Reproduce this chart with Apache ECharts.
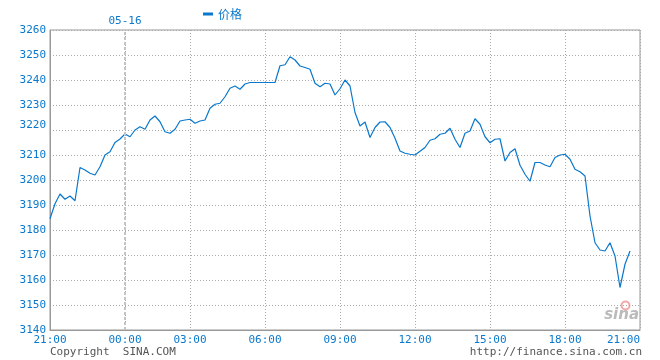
<!DOCTYPE html>
<html><head><meta charset="utf-8">
<script src="https://cdn.jsdelivr.net/npm/echarts@6/dist/echarts.min.js"></script>
<style>html,body{margin:0;padding:0;background:#fff}#c{width:660px;height:360px}</style>
</head><body><div id="c"></div>
<script>
// ---- data ----
const seriesName = '价格';
const dayLabel = '05-16';
const tickLabels = ['21:00','00:00','03:00','06:00','09:00','12:00','15:00','18:00','21:00'];
const yTicks = [3140,3150,3160,3170,3180,3190,3200,3210,3220,3230,3240,3250,3260];
const prices = [
3184.5,3190.5,3194.4,3192.3,3193.6,3191.7,3205,3204,3202.7,3202,
3205.3,3210,3211.3,3215,3216.4,3218.4,3217.3,3220,3221.3,3220.3,
3224,3225.6,3223.3,3219.3,3218.7,3220.3,3223.6,3224,3224.3,3222.7,
3223.6,3224,3228.7,3230.3,3230.7,3233.3,3236.7,3237.6,3236.3,3238.4,
3239,3239,3239,3239,3239,3239,3245.7,3246.1,3249.3,3248,
3245.6,3245,3244.3,3238.7,3237.3,3238.7,3238.4,3234,3236.5,3240,
3237.6,3227,3221.6,3223.2,3217,3221,3223.2,3223.3,3221,3216.7,
3211.6,3210.7,3210.3,3210,3211.5,3213,3215.9,3216.5,3218.3,3218.7,
3220.7,3216.3,3213,3218.7,3219.6,3224.5,3222.3,3217.3,3214.9,3216.3,
3216.5,3207.6,3211,3212.5,3205.9,3202.3,3199.5,3207,3207,3206,
3205.3,3209,3210,3210.3,3208.3,3204.3,3203.3,3201.6,3185.6,3174.9,
3172,3171.6,3174.9,3169.6,3157,3166.3,3171.6
];
// time slots every 12 minutes, session pause 02:24 -> 03:00
const slotCount = 119;
function pad(n){return (n<10?'0':'')+n;}
const categories = [];
for (let i = 0; i < slotCount; i++) {
  const m = i <= 27 ? i*12 : 360 + (i-28)*12; // minutes after 05-15 21:00
  const tot = 21*60 + m;
  const day = tot >= 1440 ? '05-16' : '05-15';
  const t = tot % 1440;
  categories.push(day + ' ' + pad(Math.floor(t/60)) + ':' + pad(t%60));
}
const data = categories.map((c,i)=> i < prices.length ? prices[i] : null);
const isTick = (idx, val) => tickLabels.indexOf(val.slice(6)) >= 0 &&
  (idx === 0 || idx === slotCount-1 || val.slice(6) !== '21:00');

const blue = '#0a78cc';
const mono = '"DejaVu Sans Mono", monospace';
const chart = echarts.init(document.getElementById('c'));
chart.setOption({
  animation: false,
  backgroundColor: '#fff',
  grid: {left: 50, right: 20, top: 30, bottom: 30, show: true, borderColor: '#999', borderWidth: 1},
  legend: {
    data: [{name: seriesName, icon: 'rect'}],
    left: 198, top: 3, itemWidth: 10, itemHeight: 3, itemGap: 4,
    textStyle: {color: blue, fontSize: 12, fontFamily: '"Noto Sans CJK SC", sans-serif'}
  },
  xAxis: {
    type: 'category', data: categories, boundaryGap: false,
    axisLine: {show: true, lineStyle: {color: '#999'}},
    axisTick: {show: false},
    axisLabel: {
      interval: isTick, color: blue, fontFamily: mono, fontSize: 11, margin: 5,
      formatter: v => v.slice(6), alignMaxLabel: 'right', showMaxLabel: true, showMinLabel: true
    },
    splitLine: {show: true, interval: isTick, lineStyle: {color: '#aaa', type: [1,2], width: 1}}
  },
  yAxis: {
    type: 'value', min: yTicks[0], max: yTicks[yTicks.length-1], interval: 10,
    axisLine: {show: true, lineStyle: {color: '#999'}},
    axisTick: {show: false},
    axisLabel: {color: blue, fontFamily: mono, fontSize: 11, margin: 4,
      formatter: v => v === 3220 ? '{u|' + v + '}' : '' + v,
      rich: {u: {color: blue, fontFamily: mono, fontSize: 11, padding: [0,0,10,0]}}},
    splitLine: {show: true, lineStyle: {color: '#aaa', type: [1,2], width: 1}}
  },
  series: [{
    name: seriesName, type: 'line', data: data, showSymbol: false, symbol: 'none',
    lineStyle: {color: blue, width: 1.2}, itemStyle: {color: blue},
    markLine: {
      silent: true, symbol: 'none',
      lineStyle: {color: '#c4c4c4', type: [3,2], width: 2},
      label: {show: true, position: 'end', formatter: dayLabel, color: blue, fontFamily: mono, fontSize: 11, distance: 3},
      data: [{xAxis: '05-16 00:00'}]
    }
  }],
  graphic: [
    {type: 'text', left: 50, top: 347, style: {text: 'Copyright  SINA.COM', fill: '#555', font: '11px ' + mono}},
    {type: 'text', right: 18, top: 347, style: {text: 'http://finance.sina.com.cn', fill: '#555', font: '11px ' + mono}},
    {type: 'text', right: 21, top: 308, style: {text: 'sina', fill: '#bbb', font: 'italic bold 15px "DejaVu Sans", sans-serif'}},
    {type: 'circle', right: 28, top: 299, shape: {r: 4}, style: {fill: 'none', stroke: '#f2a8a8', lineWidth: 2}}
  ]
});
</script></body></html>
